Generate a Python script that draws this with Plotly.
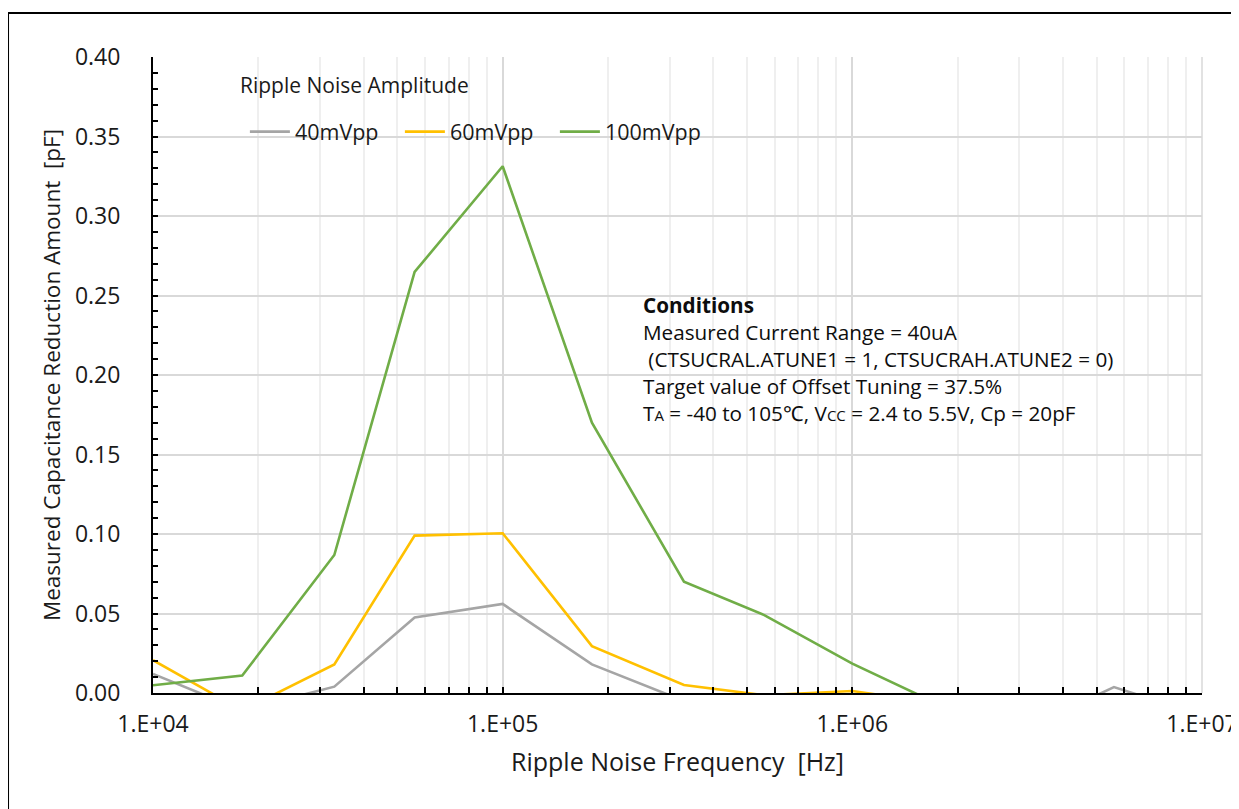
import plotly.graph_objects as go

freq = [1e4, 1.8e4, 3.3e4, 5.6e4, 1e5, 1.8e5, 3.3e5, 5.6e5, 1e6, 1.8e6, 3.3e6, 5.6e6, 1e7]
amp_40 = [0.012, -0.011, 0.004, 0.0475, 0.056, 0.018, -0.005, -0.010, -0.012, -0.015, -0.020, 0.0037, -0.014]
amp_60 = [0.0206, -0.011, 0.018, 0.099, 0.1005, 0.0295, 0.005, -0.0014, 0.0013, -0.007, -0.010, -0.012, -0.010]
amp_100 = [0.0049, 0.011, 0.0868, 0.2648, 0.3313, 0.170, 0.070, 0.049, 0.0185, -0.008, -0.015, -0.020, -0.020]

series_names = ["40mVpp", "60mVpp", "100mVpp"]
series_colors = ["#A5A5A5", "#FFC000", "#70AD47"]

x_tickvals = [1e4, 1e5, 1e6, 1e7]
x_ticktext = ["1.E+04", "1.E+05", "1.E+06", "1.E+07"]

FONT = "Open Sans"
TXT = "#1a1a1a"

fig = go.Figure()
for name, vals, col in zip(series_names, [amp_40, amp_60, amp_100], series_colors):
    fig.add_trace(go.Scatter(x=freq, y=vals, mode="lines", name=name,
                             line=dict(color=col, width=2.6)))

minor_vals = [m * 10 ** e for e in range(4, 7) for m in range(2, 10)]

fig.update_layout(
    width=1231, height=801,
    margin=dict(l=145, r=37, t=49, b=116, autoexpand=False),
    paper_bgcolor="white", plot_bgcolor="white",
    font=dict(family=FONT, color=TXT),
    showlegend=True,
    legend=dict(
        orientation="h",
        x=0.0876, y=0.8826, xanchor="left", yanchor="middle",
        bgcolor="rgba(0,0,0,0)",
        font=dict(size=21.5, family=FONT, color=TXT),
        itemwidth=40,
        entrywidth=100, entrywidthmode="pixels",
        tracegroupgap=0,
    ),
    xaxis=dict(
        type="log", range=[4, 7], automargin=False,
        tickvals=x_tickvals, ticktext=x_ticktext,
        ticklabeloverflow="allow",
        ticks="inside", ticklen=6, tickcolor="black", tickwidth=1.5,
        showline=True, linecolor="black", linewidth=2,
        showgrid=True, gridcolor="#d9d9d9", gridwidth=1.5,
        tickfont=dict(size=23, family=FONT, color=TXT),
        ticklabelstandoff=9,
        minor=dict(tickvals=minor_vals, showgrid=True, gridcolor="#efefef", gridwidth=1.5,
                   ticks="inside", ticklen=6, tickcolor="black", tickwidth=1.5),
        title=dict(text="Ripple Noise Frequency  [Hz]", standoff=16,
                   font=dict(size=25, family=FONT, color=TXT)),
        zeroline=False,
    ),
    yaxis=dict(
        range=[0, 0.40], dtick=0.05, tickformat=".2f", automargin=False,
        ticks="inside", ticklen=5, tickcolor="black", tickwidth=1.5,
        showline=True, linecolor="black", linewidth=2,
        showgrid=True, gridcolor="#d9d9d9", gridwidth=1.5,
        tickfont=dict(size=23, family=FONT, color=TXT),
        ticklabelstandoff=26,
        minor=dict(dtick=0.01, ticks="inside", ticklen=5, tickcolor="black",
                   tickwidth=1.5, showgrid=False),
        title=dict(text="Measured Capacitance Reduction Amount  [pF]", standoff=8,
                   font=dict(size=22.5, family=FONT, color=TXT)),
        zeroline=False,
    ),
)

fig.add_annotation(text="Ripple Noise Amplitude", xref="paper", yref="paper",
                   x=0.0815, y=0.956, xanchor="left", yanchor="middle",
                   showarrow=False, font=dict(size=21, family=FONT, color=TXT))

cond_text = ("<b>Conditions</b><br>"
             "Measured Current Range = 40uA<br>"
             "\u00a0(CTSUCRAL.ATUNE1 = 1, CTSUCRAH.ATUNE2 = 0)<br>"
             "Target value of Offset Tuning = 37.5%<br>"
             "T<span style='font-size:15px'>A</span> = -40 to 105\u2103, "
             "V<span style='font-size:15px'>CC</span> = 2.4 to 5.5V, Cp = 20pF")
fig.add_annotation(text=cond_text, xref="paper", yref="paper",
                   x=0.465, y=0.635, xanchor="left", yanchor="top",
                   align="left", showarrow=False,
                   font=dict(size=20.7, family=FONT, color="#0d0d0d"))

# right edge gridline of the plot area (1.E+07 decade line)
fig.add_shape(type="line", xref="paper", yref="paper",
              x0=1, y0=0, x1=1, y1=1,
              line=dict(color="#d9d9d9", width=1.5), layer="below")

# outer chart border (left and top edges; the others lie beyond the view)
fig.add_shape(type="line", xref="paper", yref="paper",
              x0=-0.1382, y0=-0.3, x1=-0.1382, y1=1.0692,
              line=dict(color="black", width=2), layer="below")
fig.add_shape(type="line", xref="paper", yref="paper",
              x0=-0.1382, y0=1.0692, x1=1.2, y1=1.0692,
              line=dict(color="black", width=2), layer="below")

fig.write_html("out.html")
